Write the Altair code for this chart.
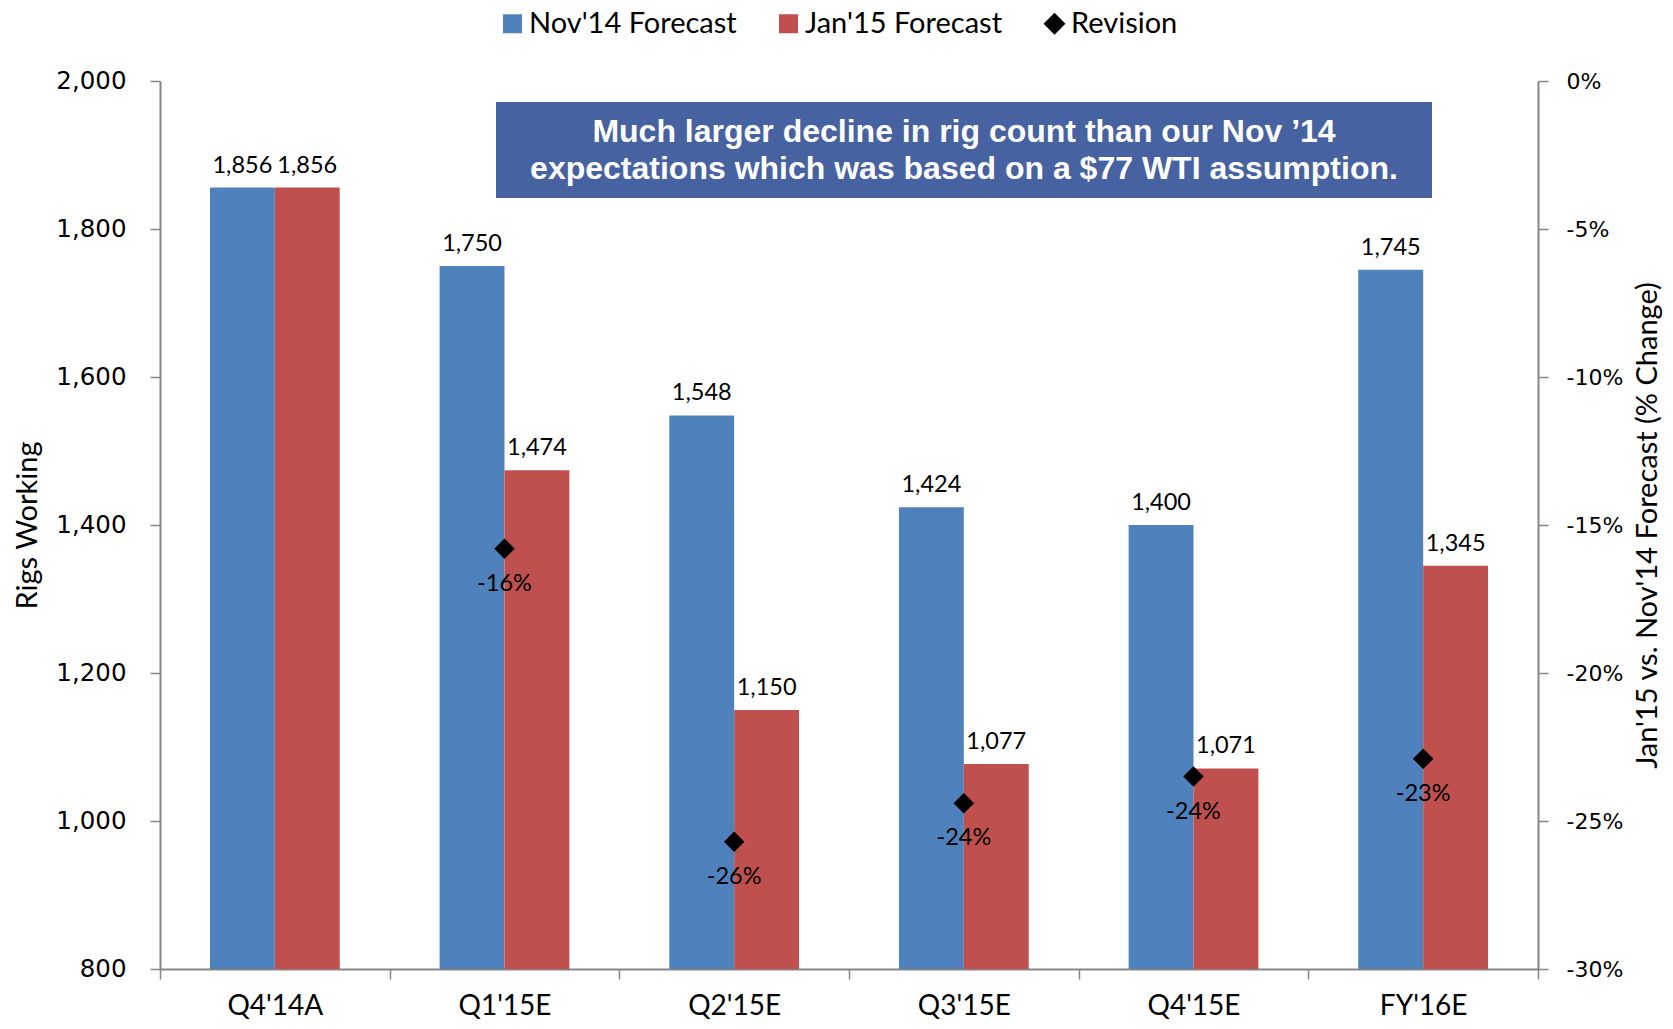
import altair as alt
import pandas as pd

# ---- data ----
categories = ["Q4'14A", "Q1'15E", "Q2'15E", "Q3'15E", "Q4'15E", "FY'16E"]
nov14 = [1856, 1750, 1548, 1424, 1400, 1745]
jan15 = [1856, 1474, 1150, 1077, 1071, 1345]
rev_categories = ["Q1'15E", "Q2'15E", "Q3'15E", "Q4'15E", "FY'16E"]
revision = [-15.8, -25.7, -24.4, -23.5, -22.9]
rev_labels = ["-16%", "-26%", "-24%", "-24%", "-23%"]
series = ["Nov'14 Forecast", "Jan'15 Forecast", "Revision"]
colors = ["#4F81BD", "#C0504D", "#000000"]
left_ticks = [800, 1000, 1200, 1400, 1600, 1800, 2000]
right_ticks = [-30, -25, -20, -15, -10, -5, 0]
note_lines = ["Much larger decline in rig count than our Nov \u201914",
              "expectations which was based on a $77 WTI assumption."]

rows = []
for c, a, b in zip(categories, nov14, jan15):
    rows.append({"category": c, "series": series[0], "value": a, "label": f"{a:,}"})
    rows.append({"category": c, "series": series[1], "value": b, "label": f"{b:,}"})
bars_df = pd.DataFrame(rows)
rev_df = pd.DataFrame({"category": rev_categories, "rev": revision, "label": rev_labels})

AXIS_GRAY = "#868686"
LABEL_FONT = "Lato"


def x_enc():
    return alt.X("category:N", sort=categories,
                 scale=alt.Scale(type="band", domain=categories, paddingInner=0, paddingOuter=0),
                 axis=alt.Axis(title=None, labelAngle=0, labelFont=LABEL_FONT, labelFontSize=28,
                               labelColor="black", labelBaseline="alphabetic",
                               tickBand="extent", tickSize=10, tickWidth=1.5,
                               tickColor=AXIS_GRAY, domainColor=AXIS_GRAY, domainWidth=2,
                               labelPadding=35, grid=False))


xoff = alt.XOffset("series:N", sort=series[:2],
                   scale=alt.Scale(domain=series[:2], paddingInner=0, paddingOuter=0.77))

y_left_scale = alt.Scale(domain=[800, 2000], zero=False, nice=False)
y_left = alt.Y("value:Q", scale=y_left_scale,
               axis=alt.Axis(orient="left", values=left_ticks, labelExpr="format(datum.value, ',')",
                             title="Rigs Working",
                             titleFont=LABEL_FONT, titleFontSize=29, titleFontWeight="normal",
                             titleColor="black", titlePadding=13,
                             labelFont="DejaVu Sans", labelFontSize=24.5, labelColor="black",
                             labelPadding=24, tickSize=10, tickWidth=1.5, tickColor=AXIS_GRAY,
                             domainColor=AXIS_GRAY, domainWidth=2, grid=False))

legend = alt.Legend(title=None, orient="none", legendX=338, legendY=-72, direction="horizontal",
                    symbolType=alt.ExprRef(expr="datum.value === 'Revision' ? 'diamond' : 'square'"),
                    symbolSize=alt.ExprRef(expr="datum.value === 'Revision' ? 480 : 361"),
                    symbolStrokeWidth=0, labelLimit=400,
                    labelFont=LABEL_FONT, labelFontSize=29, labelColor="black",
                    labelOffset=2, columnPadding=37)

bars = alt.Chart(bars_df).mark_bar().encode(
    x=x_enc(),
    xOffset=xoff,
    y=y_left,
    y2=alt.datum(800),
    color=alt.Color("series:N", scale=alt.Scale(domain=series, range=colors), legend=legend),
)
bar_labels = alt.Chart(bars_df).mark_text(font=LABEL_FONT, fontSize=23.5, color="black",
                                          baseline="alphabetic", dy=-15).encode(
    x=x_enc(), xOffset=xoff,
    y=alt.Y("value:Q", scale=y_left_scale, axis=None),
    text="label:N",
)

y_right_scale = alt.Scale(domain=[-30, 0], zero=False, nice=False)
y_right = alt.Y("rev:Q", scale=y_right_scale,
                axis=alt.Axis(orient="right", values=right_ticks, labelExpr="datum.value + '%'",
                              title="Jan'15 vs. Nov'14 Forecast (% Change)", titleAngle=270,
                              titleBaseline="top",
                              titleFont=LABEL_FONT, titleFontSize=29, titleFontWeight="normal",
                              titleColor="black", titlePadding=11,
                              labelFont="DejaVu Sans", labelFontSize=22, labelColor="black",
                              labelPadding=18, tickSize=10, tickWidth=1.5, tickColor=AXIS_GRAY,
                              domainColor=AXIS_GRAY, domainWidth=2, grid=False))
points = alt.Chart(rev_df).mark_point(shape="diamond", filled=True, size=420, color="black",
                                      opacity=1).encode(x=x_enc(), y=y_right)
rev_text = alt.Chart(rev_df).mark_text(font=LABEL_FONT, fontSize=23.5, color="black",
                                       baseline="middle", dy=35).encode(
    x=x_enc(), y=alt.Y("rev:Q", scale=y_right_scale, axis=None), text="label:N")

one = pd.DataFrame({"k": [0]})
note_box = alt.Chart(one).mark_rect(color="#4762A1").encode(
    x=alt.value(336), x2=alt.value(1272), y=alt.value(21), y2=alt.value(117))
note_text = alt.Chart(one).mark_text(text=note_lines, font="Liberation Sans",
                                     fontSize=32, fontWeight="bold", color="white",
                                     align="center", baseline="middle", lineHeight=37).encode(
    x=alt.value(804), y=alt.value(51))

chart = alt.layer(bars, bar_labels, points, rev_text, note_box, note_text).resolve_scale(
    y="independent").properties(
    width=1378, height=888,
    autosize=alt.AutoSizeParams(type="none"),
    padding={"left": 152, "top": 73, "right": 127, "bottom": 52},
).configure(background="white").configure_view(strokeWidth=0)

chart.save("out.html", embed_options={"renderer": "svg", "actions": False})
